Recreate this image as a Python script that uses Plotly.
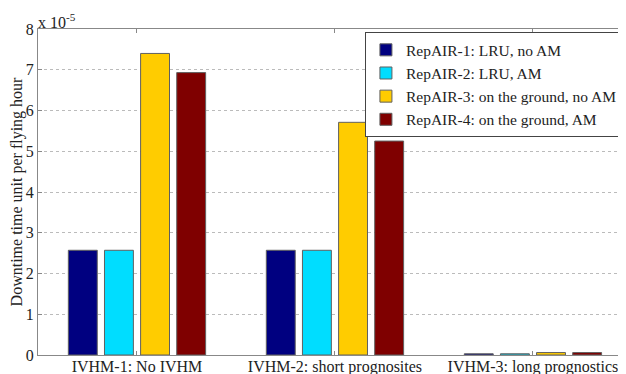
import plotly.graph_objects as go

categories = ["IVHM-1: No IVHM", "IVHM-2: short prognosites", "IVHM-3: long prognostics"]
series_names = ["RepAIR-1: LRU, no AM", "RepAIR-2: LRU, AM",
                "RepAIR-3: on the ground, no AM", "RepAIR-4: on the ground, AM"]
rep1 = [2.57e-5, 2.57e-5, 0.03e-5]
rep2 = [2.57e-5, 2.57e-5, 0.03e-5]
rep3 = [7.40e-5, 5.71e-5, 0.06e-5]
rep4 = [6.93e-5, 5.25e-5, 0.06e-5]
colors = ["#000080", "#00DDFF", "#FFCC00", "#7F0000"]
ytick_vals = [0, 1e-5, 2e-5, 3e-5, 4e-5, 5e-5, 6e-5, 7e-5, 8e-5]
ytick_text = ["0", "1", "2", "3", "4", "5", "6", "7", "8"]

font = "Liberation Serif, serif"
fig = go.Figure()
for name, vals, c in zip(series_names, [rep1, rep2, rep3, rep4], colors):
    fig.add_trace(go.Bar(x=[0, 1, 2], y=vals, name=name, marker_color=c,
                         marker_line=dict(color="#606060", width=1)))

fig.update_layout(
    width=618, height=366,
    margin=dict(l=30, r=0, t=21, b=19, autoexpand=False),
    paper_bgcolor="white", plot_bgcolor="white",
    barmode="group", bargap=0.27, bargroupgap=0.2,
    font=dict(family=font, size=16, color="#222"),
    showlegend=True,
    legend=dict(x=0.556, y=0.99, xanchor="left", yanchor="top",
                bordercolor="#444", borderwidth=1, bgcolor="white",
                font=dict(family=font, size=15.5, color="#222"),
                tracegroupgap=0, itemwidth=30),
    xaxis=dict(range=[-0.5, 2.47], tickvals=[0, 1, 2], ticktext=categories,
               ticks="inside", ticklen=4, tickcolor="#888",
               showline=True, linecolor="#888", linewidth=1, mirror="ticks",
               showgrid=False, zeroline=False, automargin=False,
               ticklabelstandoff=-3,
               tickfont=dict(family=font, size=16, color="#222")),
    yaxis=dict(range=[0, 8e-5], tickvals=ytick_vals, ticktext=ytick_text,
               ticks="inside", ticklen=4, tickcolor="#888",
               showline=True, linecolor="#888", linewidth=1, mirror="ticks",
               showgrid=True, gridcolor="#bbb", griddash="dot", gridwidth=1,
               zeroline=False, automargin=False,
               title=dict(text="Downtime time unit per flying hour", standoff=2,
                          font=dict(family=font, size=16, color="#222")),
               tickfont=dict(family=font, size=16, color="#222")),
)
fig.add_annotation(xref="paper", yref="paper", x=0, y=1, xanchor="left", yanchor="bottom",
                   text="x 10<sup>-5</sup>", showarrow=False, xshift=-2, yshift=-4,
                   font=dict(family=font, size=16, color="#222"))
fig.write_html("out.html")
